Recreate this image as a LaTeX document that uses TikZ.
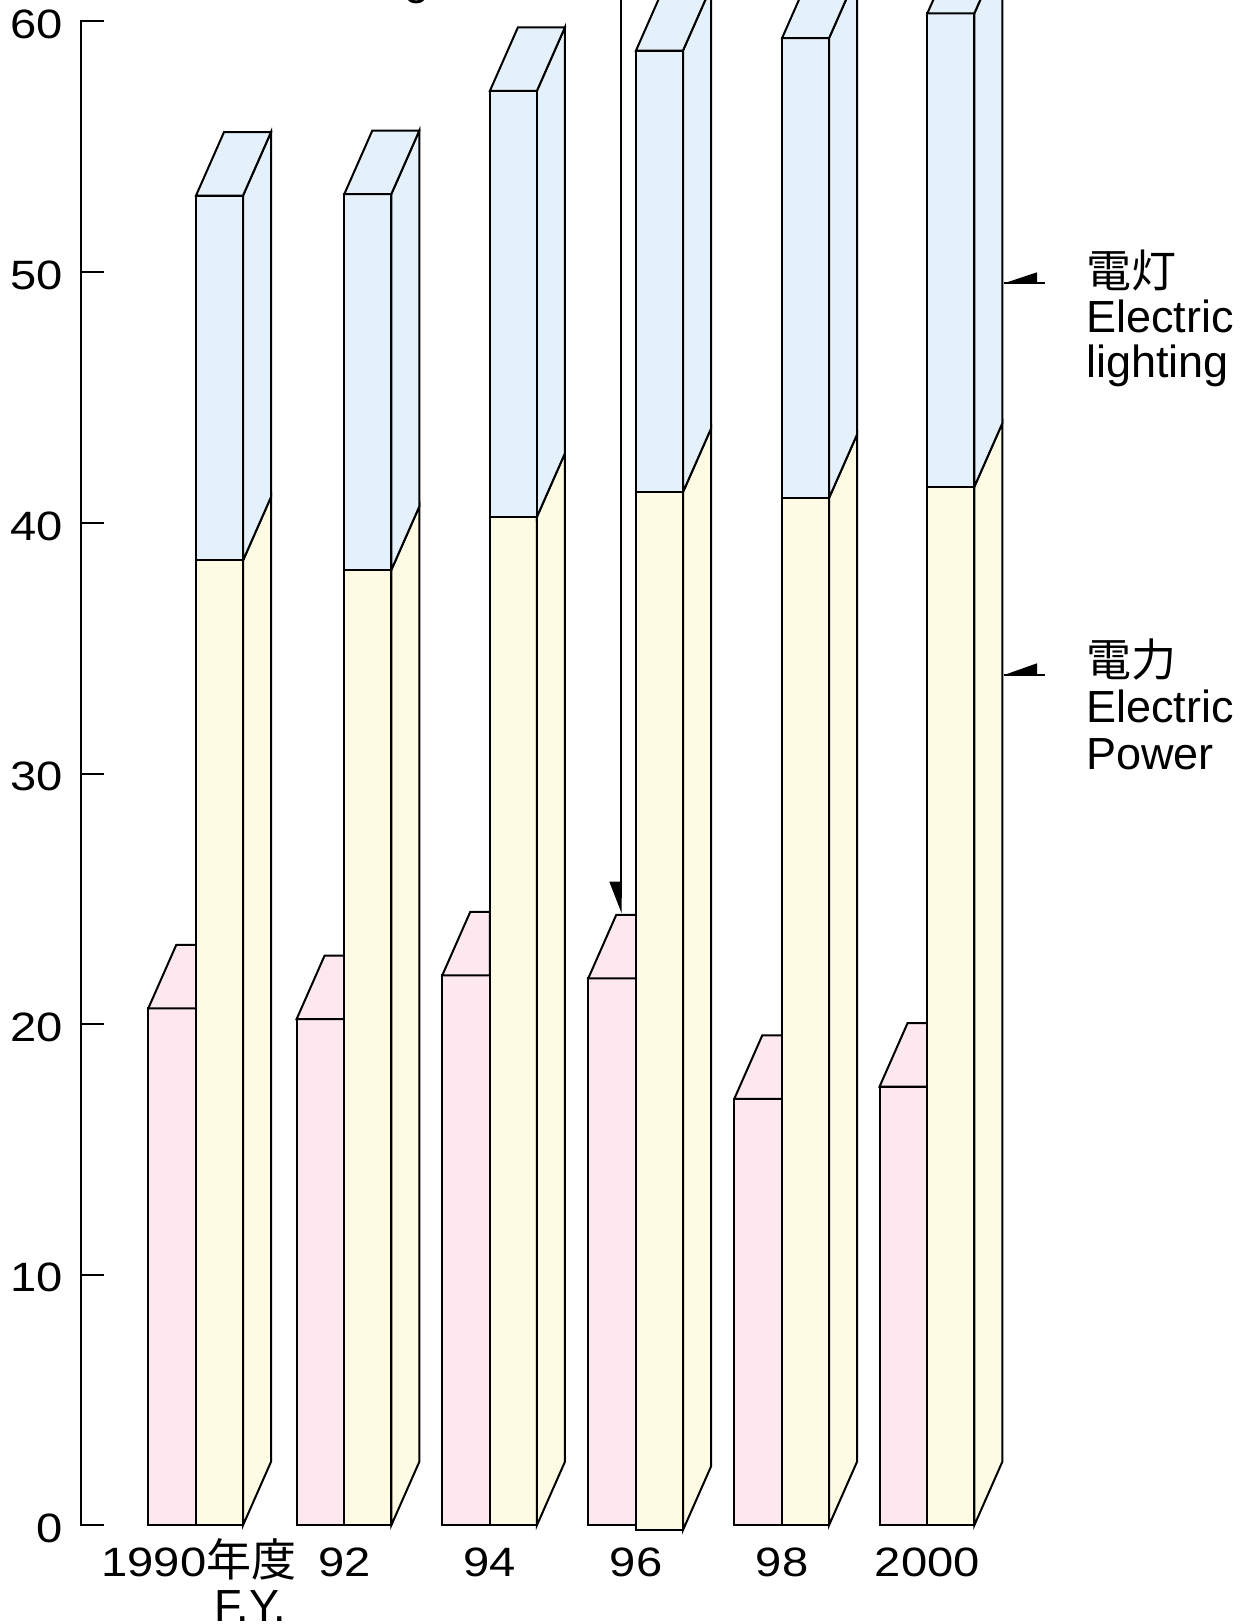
\documentclass[tikz,border=0pt]{standalone}
\usepackage{fontspec}
\setmainfont{Liberation Sans}
\newfontfamily\cjk{Noto Sans CJK JP}
\newfontfamily\wdig[FakeStretch=1.15]{Liberation Sans}
\definecolor{pinkc}{HTML}{FDE8EF}
\definecolor{yelc}{HTML}{FDFBE3}
\definecolor{bluec}{HTML}{E4F1FB}
\tikzset{
  bar/.style={draw=black, line width=2pt, line join=miter},
  axisline/.style={draw=black, line width=2pt},
  ticklab/.style={anchor=east, inner sep=0pt, font=\wdig\fontsize{41}{41}\selectfont},
  yearlab/.style={anchor=base, inner sep=0pt, font=\fontsize{45}{45}\selectfont},
  legendlab/.style={anchor=base west, inner sep=0pt, font=\fontsize{45}{45}\selectfont},
}
\newcommand\drawgroup[5]{%
  \pgfmathsetmacro{\xa}{#1-47.7}%
  \pgfmathsetmacro{\xb}{#1}%
  \pgfmathsetmacro{\xc}{#1+47}%
  \pgfmathsetmacro{\xd}{#1+75}%
  \pgfmathsetmacro{\yp}{1525.3-25.06*#2}%
  \pgfmathsetmacro{\yy}{1525.3-25.06*#3}%
  \pgfmathsetmacro{\yb}{1525.3-25.06*#4}%
  \pgfmathsetmacro{\ybot}{#5}%
  \filldraw[bar, fill=pinkc] (\xa,1525.3) rectangle (\xb,\yp);
  \filldraw[bar, fill=pinkc] (\xa,\yp) -- (\xa+28,\yp-63.5) -- (\xb,\yp-63.5) -- (\xb,\yp) -- cycle;
  \filldraw[bar, fill=yelc] (\xb,\ybot) rectangle (\xc,\yy);
  \filldraw[bar, fill=yelc] (\xc,\ybot) -- (\xd,\ybot-63.5) -- (\xd,\yy-63.5) -- (\xc,\yy) -- cycle;
  \filldraw[bar, fill=bluec] (\xc,\yy) -- (\xd,\yy-63.5) -- (\xd,\yb-63.5) -- (\xc,\yb) -- cycle;
  \filldraw[bar, fill=bluec] (\xb,\yy) rectangle (\xc,\yb);
  \filldraw[bar, fill=bluec] (\xb,\yb) -- (\xb+28,\yb-63.5) -- (\xd,\yb-63.5) -- (\xc,\yb) -- cycle;
}
\begin{document}
\begin{tikzpicture}[x=1pt, y=-1pt]
\useasboundingbox (0,0) rectangle (1249,1624);
\clip (0,0) rectangle (1249,1624);
% axis
\draw[axisline] (104,21.5) -- (81,21.5) -- (81,1525.3) -- (104,1525.3);
\foreach \v in {1,...,5} {
  \draw[axisline] (81,{1525.3-25.06*10*\v}) -- (104,{1525.3-25.06*10*\v});
}
\node[ticklab] (t60) at (63,24.7) {60};
\node[ticklab] (t50) at (63,{1525.3-25.06*50+3}) {50};
\node[ticklab] (t40) at (63,{1525.3-25.06*40+3}) {40};
\node[ticklab] (t30) at (63,{1525.3-25.06*30+3}) {30};
\node[ticklab] (t20) at (63,{1525.3-25.06*20+3}) {20};
\node[ticklab] (t10) at (63,{1525.3-25.06*10+3}) {10};
\node[ticklab] (t0) at (63,1528.3) {0};
% bars
\drawgroup{196}{20.63}{38.5}{53.06}{1525.3}
\drawgroup{344.3}{20.2}{38.12}{53.12}{1525.3}
\drawgroup{489.9}{21.94}{40.24}{57.24}{1525.3}
\drawgroup{636}{21.83}{41.23}{58.85}{1530}
\drawgroup{782}{17.02}{40.99}{59.34}{1525.3}
\drawgroup{927.3}{17.51}{41.44}{60.33}{1525.3}
% year labels
\node[yearlab] (y90) at (199,1576) {{\wdig\fontsize{41}{41}\selectfont 1990}{\cjk 年度}};
\node[yearlab] (fy) at (250,1621) {F.Y.};
\node[yearlab, font=\wdig\fontsize{41}{41}\selectfont] (y92) at (344.3,1576) {92};
\node[yearlab, font=\wdig\fontsize{41}{41}\selectfont] (y94) at (489.9,1576) {94};
\node[yearlab, font=\wdig\fontsize{41}{41}\selectfont] (y96) at (636,1576) {96};
\node[yearlab, font=\wdig\fontsize{41}{41}\selectfont] (y98) at (782,1576) {98};
\node[yearlab, font=\wdig\fontsize{41}{41}\selectfont] (y00) at (927.3,1576) {2000};
% top label remnant
\node[anchor=base, inner sep=0pt, font=\fontsize{45}{45}\selectfont] (topg) at (417,-5) {g};
% pointer arrow to 96 pink
\coordinate (ptop) at (621,0);
\coordinate (ptip) at (621.5,913);
\draw[line width=2pt] (ptop) -- (621,885);
\fill (609.3,881.7) -- (622,881.7) -- (ptip) -- cycle;
% legend markers
\coordinate (m1) at (1004,283.3);
\draw[line width=2pt] (m1) -- (1045,283.3);
\fill (m1) -- (1037,272.3) -- (1037,283.3) -- cycle;
\coordinate (m2) at (1004,675);
\draw[line width=2pt] (m2) -- (1045,675);
\fill (m2) -- (1037,663.3) -- (1037,675) -- cycle;
% legend texts
\node[legendlab] (l1a) at (1086,287) {\cjk 電灯};
\node[legendlab] (l1b) at (1086,332) {Electric};
\node[legendlab] (l1c) at (1086,377) {lighting};
\node[legendlab] (l2a) at (1086,676) {\cjk 電力};
\node[legendlab] (l2b) at (1086,722) {Electric};
\node[legendlab] (l2c) at (1086,769) {Power};
\end{tikzpicture}
\end{document}
